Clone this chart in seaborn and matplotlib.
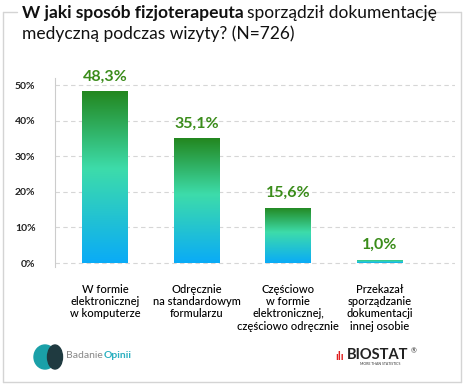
import numpy as np
import pandas as pd
import matplotlib
matplotlib.use("Agg")
import matplotlib.pyplot as plt
import seaborn as sns
from matplotlib.colors import LinearSegmentedColormap
from matplotlib.lines import Line2D
from matplotlib.patches import Ellipse

categories = [
    "W formie\nelektronicznej\nw komputerze",
    "Odręcznie\nna standardowym\nformularzu",
    "Częściowo\nw formie\nelektronicznej,\nczęściowo odręcznie",
    "Przekazał\nsporządzanie\ndokumentacji\ninnej osobie",
]
values = [48.3, 35.1, 15.6, 1.0]
value_labels = ["48,3%", "35,1%", "15,6%", "1,0%"]
y_ticks = [0, 10, 20, 30, 40, 50]
y_tick_labels = ["0%", "10%", "20%", "30%", "40%", "50%"]

sns.set_style("white")
plt.rcParams["font.family"] = ["Lato", "DejaVu Sans"]

df = pd.DataFrame({"kategoria": categories, "procent": values})

fig = plt.figure(figsize=(4.64, 3.85), dpi=100)
ax = fig.add_axes([0.1185, 0.3065, 0.862, 0.4909])

sns.barplot(data=df, x="kategoria", y="procent", color="#22aaee", width=0.5,
            ax=ax, zorder=3)

# gradient fill for each bar: green at top, turquoise in middle, blue at bottom
cmap = LinearSegmentedColormap.from_list(
    "grad", [(0.0, "#0aabf7"), (0.55, "#3ddcaa"), (1.0, "#23871f")])
grad = np.linspace(0, 1, 256).reshape(-1, 1)
for patch in ax.patches:
    x0, y0 = patch.get_x(), patch.get_y()
    w, h = patch.get_width(), patch.get_height()
    im = ax.imshow(grad, cmap=cmap, aspect="auto", origin="lower",
                   extent=[x0, x0 + w, y0, y0 + h], zorder=4)
    im.set_clip_path(patch)
    patch.set_facecolor("none")
    patch.set_edgecolor("none")

for i, (v, lab) in enumerate(zip(values, value_labels)):
    ax.text(i, v + 2.2, lab, ha="center", va="bottom", fontsize=11.5,
            fontweight="bold", color="#3a8c1a", zorder=5)

ax.set_xlim(-0.545, 3.82)
ax.set_ylim(-1.1, 52)
ax.set_yticks(y_ticks)
ax.set_yticklabels(y_tick_labels, fontsize=7.5, fontweight="bold", color="#222222")
ax.set_xticks(range(len(categories)))
ax.set_xticklabels(categories, fontsize=8, color="#000000", linespacing=1.15,
                   fontweight="medium")
ax.tick_params(axis="both", length=0)
ax.tick_params(axis="x", pad=12)
ax.tick_params(axis="y", pad=14)
ax.set_xlabel("")
ax.set_ylabel("")
for y in y_ticks:
    ax.axhline(y, color="#d6d6d6", linewidth=0.8, linestyle=(0, (4, 3)), zorder=1)
for s in ["top", "right", "bottom"]:
    ax.spines[s].set_visible(False)
ax.spines["left"].set_color("#cccccc")
ax.spines["left"].set_linewidth(0.8)

# outer frame with gap for the title
W, H = 464.0, 385.0
fc = "#d4d4d4"
def fx(px):
    return px / W
def fy(py):
    return 1 - py / H
fig.add_artist(Line2D([fx(3), fx(3)], [fy(12), fy(382)], color=fc, lw=1))
fig.add_artist(Line2D([fx(461), fx(461)], [fy(12), fy(382)], color=fc, lw=1))
fig.add_artist(Line2D([fx(3), fx(461)], [fy(382), fy(382)], color=fc, lw=1))
fig.add_artist(Line2D([fx(3), fx(17)], [fy(12), fy(12)], color=fc, lw=1))
fig.add_artist(Line2D([fx(413), fx(461)], [fy(12), fy(12)], color=fc, lw=1))

renderer = fig.canvas.get_renderer()

def after(t, gap=0.0):
    bb = t.get_window_extent(renderer=renderer)
    return bb.x1 / fig.bbox.width + gap

# title: bold part followed by regular part
t1 = fig.text(fx(22), fy(13), "W jaki sposób fizjoterapeuta", fontsize=12.5,
              fontweight="bold", color="#111111", va="center")
fig.text(after(t1, 0.008), fy(13), "sporządził dokumentację",
         fontsize=12.5, color="#111111", va="center")
fig.text(fx(22), fy(34), "medyczną podczas wizyty? (N=726)", fontsize=12.5,
         color="#111111", va="center")

# footer logos (approximated)
fig.add_artist(Ellipse((fx(45), fy(357)), 22 / W, 24 / H, color="#1aa0a8"))
fig.add_artist(Ellipse((fx(55), fy(357)), 15 / W, 24 / H, color="#1f3a40"))
b1 = fig.text(fx(66), fy(356), "Badanie", fontsize=7.5, color="#888888",
              va="center")
fig.text(after(b1, 0.002), fy(356), "Opinii", fontsize=7.5, fontweight="bold",
         color="#2ab0c0", va="center")
fig.text(fx(335), fy(356), "ılı", fontsize=8, fontweight="bold", color="#e02020",
         va="center")
s1 = fig.text(fx(347), fy(355), "BIOSTAT", fontsize=10.5, fontweight="bold",
              color="#222222", va="center")
fig.text(fx(360), fy(364), "MORE THAN STATISTICS", fontsize=2.5,
         color="#333333", va="center")
fig.text(after(s1, 0.004), fy(351), "®", fontsize=5, color="#333333", va="center")

fig.savefig("out.png", dpi=100, facecolor="white")
